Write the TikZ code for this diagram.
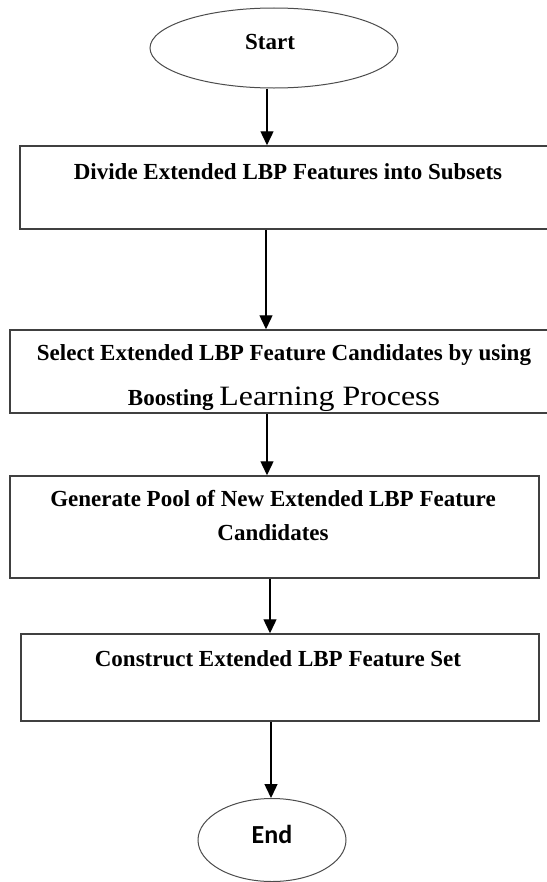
\documentclass[tikz,border=0pt]{standalone}
\usepackage{fontspec}
\setmainfont{Liberation Serif}
\newfontfamily\endfont{Carlito}
\usetikzlibrary{arrows.meta,shapes.geometric}
\begin{document}
\begin{tikzpicture}[x=1bp,y=-1bp,
  box/.style={draw=black!75,line width=1.5bp,rectangle,inner sep=0pt},
  oval/.style={draw=black!70,line width=1bp,ellipse,inner sep=0pt},
  lbl/.style={anchor=base,inner sep=0pt,font=\fontsize{23bp}{28bp}\selectfont\bfseries},
  arr/.style={draw=black,line width=1.4bp,-{Triangle[width=13bp,length=14bp]}}]
\useasboundingbox[fill=white] (0,0) rectangle (547,882);
% shapes
\node[oval,minimum width=248bp,minimum height=80bp] (start) at (274,48) {};
\node[lbl] (tstart) at (270,49) {Start};
\node[box,minimum width=536bp,minimum height=83bp] (b1) at (288,187.5) {};
\node[lbl] (t1) at (288,179) {Divide Extended LBP Features into Subsets};
\node[box,minimum width=548bp,minimum height=83bp] (b2) at (284,371.5) {};
\node[lbl] (t2a) at (284,360) {Select Extended LBP Feature Candidates by using};
\node[lbl] (t2b) at (284,405) {Boosting {\mdseries\fontsize{28bp}{30bp}\selectfont\scalebox{1.14}[1]{Learning Process}}};
\node[box,minimum width=529bp,minimum height=102bp] (b3) at (274.5,527) {};
\node[lbl] (t3a) at (273,506) {Generate Pool of New Extended LBP Feature};
\node[lbl] (t3b) at (273,540) {Candidates};
\node[box,minimum width=518bp,minimum height=87bp] (b4) at (280,677.5) {};
\node[lbl] (t4) at (278,666) {Construct Extended LBP Feature Set};
\node[oval,minimum width=148bp,minimum height=83bp] (end) at (272,840) {};
\node[anchor=base,inner sep=0pt,font=\endfont\fontsize{26bp}{30bp}\selectfont\bfseries] (tend) at (272,843) {End};
% connector columns
\coordinate (x1) at (267,0);
\coordinate (x2) at (266,0);
\coordinate (x3) at (267,0);
\coordinate (x4) at (270,0);
\coordinate (x5) at (271,0);
\draw[arr] (start.south -| x1) -- (b1.north -| x1);
\draw[arr] (b1.south -| x2) -- (b2.north -| x2);
\draw[arr] (b2.south -| x3) -- (b3.north -| x3);
\draw[arr] (b3.south -| x4) -- (b4.north -| x4);
\draw[arr] (b4.south -| x5) -- (end.north -| x5);
\end{tikzpicture}
\end{document}
